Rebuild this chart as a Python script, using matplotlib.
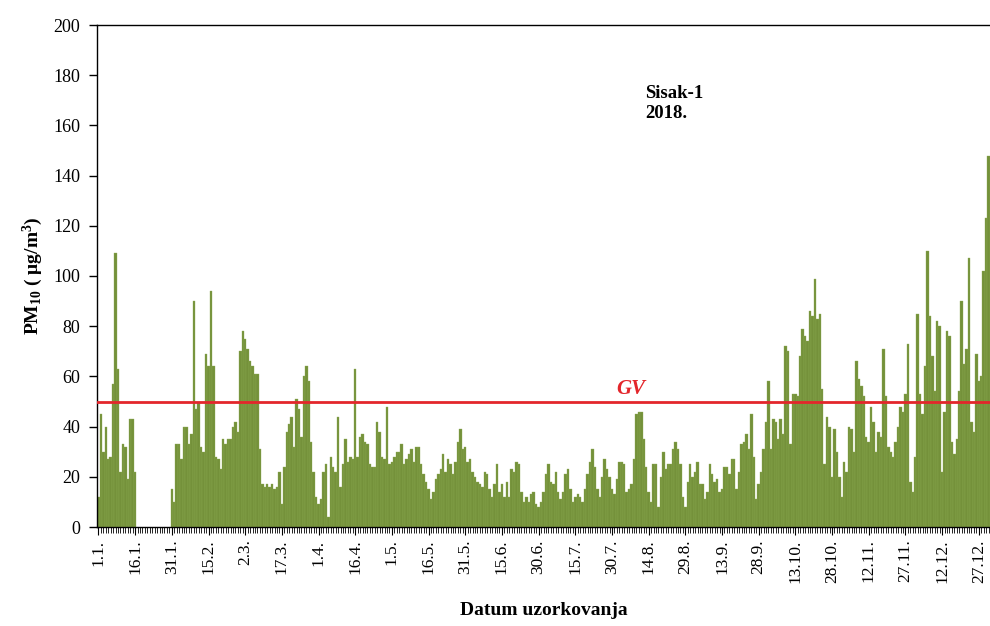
import numpy as np
import matplotlib
matplotlib.use("Agg")
import matplotlib.pyplot as plt

# Daily PM10 at Sisak-1, 2018 (ug/m3)
jan_a = [12, 45, 30, 40, 27, 28, 57, 109, 63, 22, 33, 32, 19, 43, 43, 22]          # days 1-16
missing = [np.nan] * 14                                                              # days 17-30, no data
jan_feb = [15, 10, 33, 33, 27, 40, 40, 33, 37, 90, 47, 50, 32, 30, 69, 64, 94, 64,
           28, 27, 23, 35, 33, 35, 35, 40, 42, 38]                                   # days 31-58
mar_may = [70, 78, 75, 71, 66, 64, 61, 61, 31, 17, 16, 17, 16, 17, 15, 16, 22, 9, 24, 38,
           41, 44, 32, 51, 47, 36, 60, 64, 58, 34, 22, 12, 9, 11, 22, 25, 4, 28, 24, 22,
           44, 16, 25, 35, 26, 28, 27, 63, 28, 36, 37, 34, 33, 25, 24, 24, 42, 38, 28, 27,
           48, 25, 26, 28, 30, 30]                                                   # days 59-124
may_jul = [33, 25, 27, 29, 31, 26, 32, 32, 25, 21, 18, 15, 11, 14, 19, 21, 23, 29, 22, 27,
           25, 21, 26, 34, 39, 31, 32, 26, 27, 22, 20, 18, 17, 16, 22, 21, 15, 12, 17, 25,
           14, 17, 12, 18, 12, 23, 22, 26, 25, 14, 10, 12, 10, 13, 14, 9, 8, 10, 14, 21, 25]  # days 125-185
jul_sep = [18, 17, 22, 14, 11, 14, 21, 23, 15, 10, 12, 13, 12, 10, 15, 21, 26, 31, 24, 15,
           12, 20, 27, 23, 20, 15, 13, 19, 26, 26, 25, 14, 15, 17, 27, 45, 46, 46, 35, 24,
           14, 10, 25, 25, 8, 20, 30, 23, 25, 25, 31, 34, 31, 25, 12, 8, 18, 25, 20, 22, 26]  # days 186-246
sep_nov = [17, 17, 11, 14, 25, 21, 18, 19, 14, 15, 24, 24, 21, 27, 27, 15, 22, 33, 34, 37,
           31, 45, 28, 11, 17, 22, 31, 42, 58, 31, 43, 42, 35, 43, 37, 72, 70, 33, 53, 53,
           52, 68, 79, 76, 74, 86, 84, 99, 83, 85, 55, 25, 44, 40, 20, 39, 30, 20, 12]     # days 247-305
nov_dec = [26, 22, 40, 39, 30, 66, 59, 56, 52, 36, 34, 48, 42, 30, 38, 36, 71, 52, 32, 30,
           28, 34, 40, 48, 46, 53, 73, 18, 14, 28, 85, 53, 45, 64, 110, 84, 68, 54, 82, 80,
           22, 46, 78, 76, 34, 29, 35, 54, 90, 65, 71, 107, 42, 38, 69, 58, 60, 102, 123, 148]  # days 306-365

pm10 = np.array(jan_a + missing + jan_feb + mar_may + may_jul + jul_sep + sep_nov + nov_dec, dtype=float)
days = np.arange(1, len(pm10) + 1)

tick_days = [1, 16, 31, 46, 61, 76, 91, 106, 121, 136, 151, 166, 181, 196, 211, 226,
             241, 256, 271, 286, 301, 316, 331, 346, 361]
tick_labels = ["1.1.", "16.1.", "31.1.", "15.2.", "2.3.", "17.3.", "1.4.", "16.4.", "1.5.",
               "16.5.", "31.5.", "15.6.", "30.6.", "15.7.", "30.7.", "14.8.", "29.8.", "13.9.",
               "28.9.", "13.10.", "28.10.", "12.11.", "27.11.", "12.12.", "27.12."]
limit_value = 50

plt.rcParams["font.family"] = ["Liberation Serif", "DejaVu Serif"]
plt.rcParams["mathtext.fontset"] = "custom"
plt.rcParams["mathtext.rm"] = "Liberation Serif"
plt.rcParams["mathtext.bf"] = "Liberation Serif:bold"
plt.rcParams["mathtext.it"] = "Liberation Serif:italic"

GREEN = "#74913a"
RED = "#e3262b"

fig = plt.figure(figsize=(9.9, 6.26), dpi=100)
ax = fig.add_axes([97 / 990, 1 - 527 / 626, (990 - 97) / 990, (527 - 25) / 626])

ax.bar(days, pm10, width=1.0, color=GREEN, edgecolor="#8fad55", linewidth=0.25, zorder=2)
ax.axhline(limit_value, color=RED, linewidth=2.0, zorder=3)
ax.text(218.5, 55, "GV", color=RED, fontsize=15, fontweight="bold", style="italic",
        ha="center", va="center")
ax.text(224.5, 176, "Sisak-1\n2018.", fontsize=13.5, fontweight="bold", ha="left", va="top",
        linespacing=1.25)

ax.set_xlim(0.4, 365.6)
ax.set_ylim(0, 200)
ax.set_yticks(np.arange(0, 201, 20))
ax.tick_params(axis="y", labelsize=13, length=6, width=1, direction="out", pad=6)

ax.set_xticks(tick_days)
ax.set_xticklabels(tick_labels, rotation=90, fontsize=12.5)
ax.set_xticks(days, minor=True)
ax.tick_params(axis="x", which="major", length=6, width=0.8, pad=3)
ax.tick_params(axis="x", which="minor", length=4, width=0.6)

ax.spines["right"].set_visible(False)
for s in ("left", "bottom", "top"):
    ax.spines[s].set_linewidth(1.0)

ax.set_ylabel(r"PM$_{\mathbf{10}}$ ( μg/m$^{\mathbf{3}}$)", fontsize=14, fontweight="bold", labelpad=6)
ax.set_xlabel("Datum uzorkovanja", fontsize=14, fontweight="bold", labelpad=14)

fig.savefig("out.png", dpi=100, facecolor="white")
